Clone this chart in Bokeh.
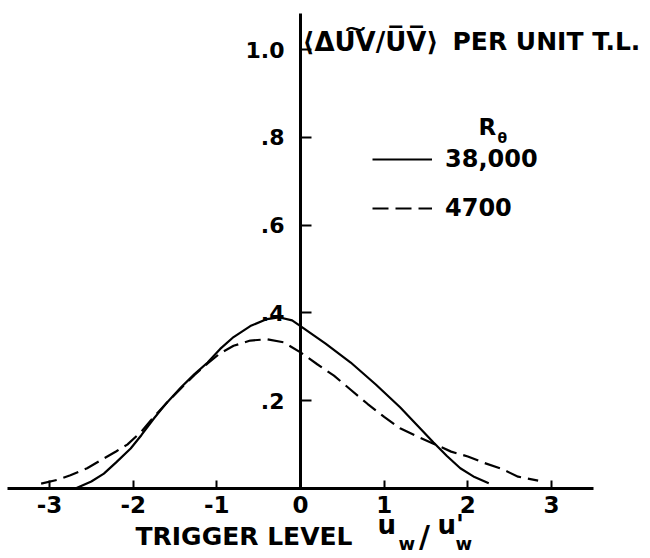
from bokeh.plotting import figure
from bokeh.models import Range1d, Label, Legend, LegendItem, FixedTicker
from bokeh.embed import file_html
from bokeh.resources import INLINE

# ---- data ----
x_ticks = [-3, -2, -1, 0, 1, 2, 3]
x_tick_labels = ["-3", "-2", "-1", "0", "1", "2", "3"]
y_ticks = [0.2, 0.4, 0.6, 0.8, 1.0]
y_tick_labels = [".2", ".4", ".6", ".8", "1.0"]

series_names = ["38,000", "4700"]

# R_theta = 38,000 (solid)
solid_x = [-2.69, -2.50, -2.35, -2.20, -2.03, -1.90, -1.75, -1.60, -1.43, -1.27,
           -1.11, -0.96, -0.80, -0.60, -0.40, -0.26, -0.10, 0.00, 0.30, 0.60,
           0.90, 1.19, 1.40, 1.59, 1.75, 1.91, 2.08, 2.25]
solid_y = [0.000, 0.016, 0.034, 0.060, 0.091, 0.122, 0.160, 0.195, 0.230, 0.260,
           0.287, 0.318, 0.345, 0.370, 0.386, 0.390, 0.383, 0.370, 0.330, 0.287,
           0.237, 0.185, 0.143, 0.105, 0.074, 0.046, 0.026, 0.012]

# R_theta = 4700 (dashed)
dash_x = [-3.10, -2.90, -2.75, -2.55, -2.39, -2.20, -2.07, -1.90, -1.79, -1.60,
          -1.43, -1.27, -1.11, -0.96, -0.80, -0.60, -0.40, -0.20, 0.00, 0.20,
          0.40, 0.60, 0.80, 1.00, 1.19, 1.40, 1.59, 1.80, 2.00, 2.20, 2.40,
          2.60, 2.84]
dash_y = [0.011, 0.020, 0.030, 0.046, 0.064, 0.085, 0.100, 0.130, 0.155, 0.195,
          0.228, 0.258, 0.285, 0.308, 0.325, 0.337, 0.340, 0.333, 0.310, 0.283,
          0.257, 0.225, 0.193, 0.163, 0.137, 0.118, 0.102, 0.084, 0.073, 0.058,
          0.045, 0.027, 0.018]

FONT = "DejaVu Sans"
W, H = 650, 558


def X(px):
    return (px - 300) / 83.67


def Y(py):
    return (488 - py) / 439


p = figure(width=W, height=H, output_backend="svg", toolbar_location=None,
           x_range=Range1d(X(0), X(W)), y_range=Range1d(Y(H), Y(0)),
           min_border=0)
p.grid.visible = False
p.outline_line_color = None
p.background_fill_color = "white"
p.border_fill_color = "white"

# x axis drawn at y = 0
xa = p.xaxis[0]
xa.fixed_location = 0
xa.bounds = (-3.5, 3.5)
xa.ticker = FixedTicker(ticks=x_ticks)
xa.major_label_overrides = dict(zip(x_ticks, x_tick_labels))
xa.axis_line_width = 3
xa.axis_line_color = "black"
xa.major_tick_in = 8
xa.major_tick_out = 0
xa.major_tick_line_width = 2
xa.minor_tick_line_color = None
xa.major_label_text_font = FONT
xa.major_label_text_font_style = "bold"
xa.major_label_text_font_size = "23px"
xa.major_label_text_color = "black"
xa.major_label_standoff = 7

# y axis drawn at x = 0
ya = p.yaxis[0]
ya.fixed_location = 0
ya.bounds = (0, 1.082)
ya.ticker = FixedTicker(ticks=y_ticks)
ya.major_label_overrides = dict(zip(y_ticks, y_tick_labels))
ya.axis_line_width = 3
ya.axis_line_color = "black"
ya.major_tick_in = 11
ya.major_tick_out = 0
ya.major_tick_line_width = 2
ya.minor_tick_line_color = None
ya.major_label_text_font = FONT
ya.major_label_text_font_style = "bold"
ya.major_label_text_font_size = "22px"
ya.major_label_text_color = "black"
ya.major_label_standoff = 16

r1 = p.line(solid_x, solid_y, line_width=2.2, line_color="black")
r2 = p.line(dash_x, dash_y, line_width=2.2, line_color="black", line_dash="16 7")

legend = Legend(items=[LegendItem(label=series_names[0], renderers=[r1]),
                       LegendItem(label=series_names[1], renderers=[r2])],
                location=(372, 336), glyph_width=60, glyph_height=28,
                label_height=28, label_standoff=13, spacing=21, padding=0,
                margin=0, border_line_color=None, background_fill_alpha=0,
                label_text_font=FONT, label_text_font_style="bold",
                label_text_font_size="24px", label_text_color="black")
p.add_layout(legend)


def lab(px, py, text, size, align="left", style="bold"):
    p.add_layout(Label(x=X(px), y=Y(py), text=text, text_align=align,
                       text_baseline="middle", text_font=FONT,
                       text_font_size=size, text_font_style=style,
                       text_color="black"))


# title at top of y axis
lab(302, 41, "⟨ΔU͠V/U̅V̅⟩", "26px")
lab(452, 41, "PER UNIT T.L.", "25px")

# legend header
lab(478, 126, "R", "23px")
lab(497, 137, "θ", "14px")

# x axis label
lab(135, 536, "TRIGGER LEVEL", "25px")
lab(377, 524, "u", "26px")
lab(398, 543, "w", "18px")
lab(424, 536, "/", "30px", align="center")
lab(437, 524, "u'", "26px")
lab(455, 543, "w", "18px")

open("out.html", "w").write(file_html(p, INLINE))
